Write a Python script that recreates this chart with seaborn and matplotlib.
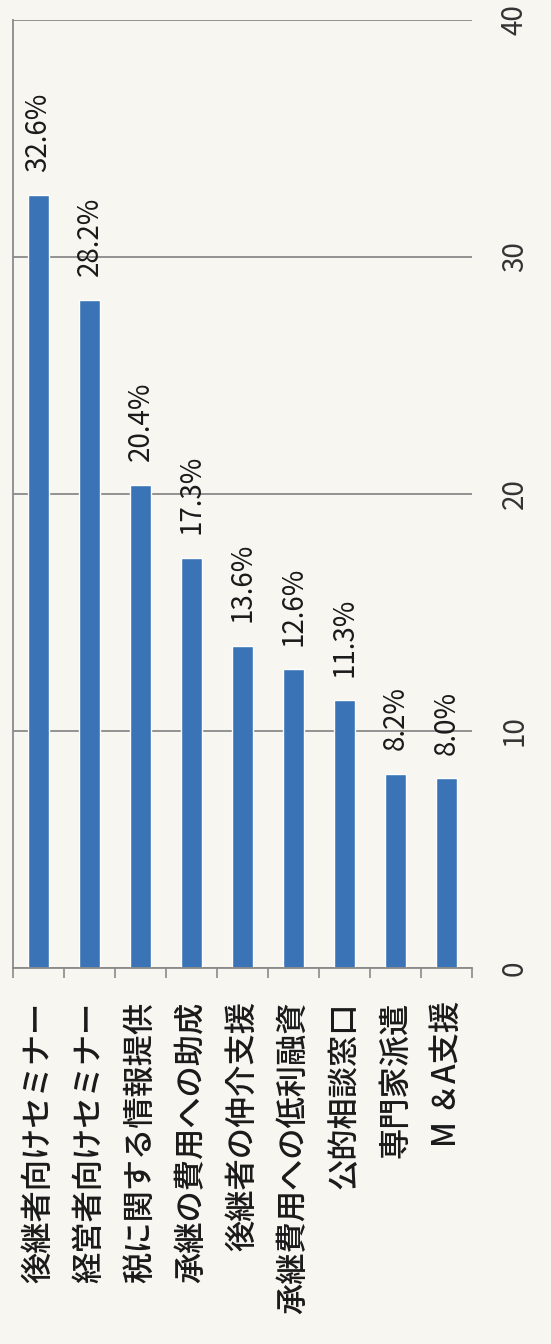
import seaborn as sns
import matplotlib.pyplot as plt
import pandas as pd

categories = ["後継者向けセミナー", "経営者向けセミナー", "税に関する情報提供",
              "承継の費用への助成", "後継者の仲介支援", "承継費用への低利融資",
              "公的相談窓口", "専門家派遣", "M ＆A支援"]
values = [32.6, 28.2, 20.4, 17.3, 13.6, 12.6, 11.3, 8.2, 8.0]
value_ticks = [0, 10, 20, 30, 40]

sns.set_theme(style="white")
plt.rcParams['font.family'] = ['Noto Sans CJK JP', 'DejaVu Sans']

bg = "#f7f6f1"
grid_c = "#8a8a8a"

df = pd.DataFrame({"cat": categories, "val": values})

fig = plt.figure(figsize=(5.51, 13.44), dpi=100, facecolor=bg)
ax = fig.add_axes([13/551, 1-968/1344, (472-13)/551, (968-20)/1344])
ax.set_facecolor(bg)

sns.barplot(data=df, x="cat", y="val", color="#3a74b6", saturation=1,
            width=0.4, ax=ax)

ax.set_ylim(0, 40)
ax.set_xlim(-0.5, len(categories) - 0.5)
ax.set_yticks(value_ticks)
ax.yaxis.tick_right()
ax.tick_params(axis="y", length=0, pad=20, labelsize=20, labelcolor="#333333",
               labelrotation=90)
for lab in ax.get_yticklabels():
    lab.set_va("center")
ax.yaxis.grid(True, color=grid_c, linewidth=1.3)
ax.set_axisbelow(True)

ax.set_xlabel("")
ax.set_ylabel("")
ax.set_xticks(range(len(categories)))
ax.set_xticklabels(categories, rotation=90, fontsize=22.5, color="#1a1a1a",
                   fontweight="medium")
ax.tick_params(axis="x", length=0, pad=24)
ax.set_xticks([i - 0.5 for i in range(len(categories) + 1)], minor=True)
ax.tick_params(axis="x", which="minor", length=7, width=1.2, color=grid_c,
               direction="out", bottom=True)

for s in ["top", "right"]:
    ax.spines[s].set_visible(False)
for s in ["left", "bottom"]:
    ax.spines[s].set_color(grid_c)
    ax.spines[s].set_linewidth(1.3)

ax.bar_label(ax.containers[0], labels=[f"{v:.1f}%" for v in values],
             rotation=90, padding=17, fontsize=20, color="#1a1a1a")

fig.savefig("out.png", dpi=100, facecolor=bg)
